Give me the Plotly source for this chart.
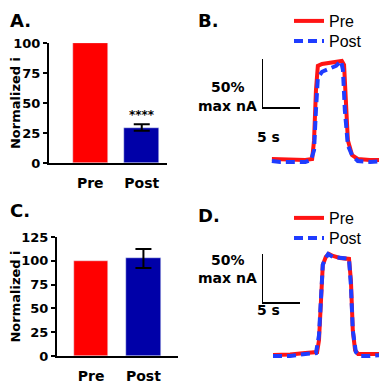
import plotly.graph_objects as go

# page body keeps its 8px margin, so the figure is laid out in page pixels minus 8
OFF = 8
W = 387 - OFF
FONT = "DejaVu Sans"
LEGFONT = "Liberation Sans"
RED = "#ff0000"
NAVY = "#0000a8"
LRED = "#ff1414"
LBLUE = "#1f3cff"

# bar panels
groups = ["Pre", "Post"]
a_mean = [100, 29.5]
a_sem = 2.7
c_mean = [100, 102.5]
c_sem = 10.0
a_sig = "****"

# trace panels (time in s, amplitude in % of max)
b_pre_t = [1.3, 3.7, 5.7, 6.6, 6.85, 7.1, 7.35, 7.9, 8.95, 10.0, 10.5, 10.8, 11.05, 11.3, 11.85, 12.6, 14.2, 16.2]
b_pre_y = [1, 0, 0, 1, 20, 71, 96, 98, 99, 100, 101, 97, 61, 20, 5, 1, 0, 0]
b_post_t = [1.3, 2.4, 4.3, 5.7, 6.45, 6.85, 7.1, 7.35, 7.9, 8.95, 9.75, 10.4, 10.65, 10.9, 11.3, 11.85, 12.6, 14.2, 16.2]
b_post_y = [-1, -2, -2, -2, 0, 10, 51, 84, 90, 93, 96, 101, 92, 51, 15, 5, -1, -2, -1]

d_pre_t = [1.45, 3.7, 5.7, 7.25, 7.5, 7.75, 8.0, 8.4, 8.8, 9.35, 10.25, 11.45, 11.7, 11.95, 12.25, 12.65, 14.2, 15.9]
d_pre_y = [-1, -0.5, 1, 2, 14, 65, 91, 99, 102, 100, 98, 97, 75, 24, 4, 0, 0, 0]
d_post_t = [1.45, 3.7, 5.7, 7.1, 7.5, 7.75, 8.0, 8.3, 8.7, 9.35, 10.25, 11.45, 11.7, 11.95, 12.35, 12.9, 14.2, 15.9]
d_post_y = [-2, -2, 0, 1, 19, 60, 91, 97, 102, 99, 98, 97, 70, 24, 2, -2, -2, -1]

scale_t = 5
scale_amp = 50


def px_x(p):
    return (p - OFF) / W


def px_y(p):
    return 1 - (p - OFF) / W


fig = go.Figure()

# A
fig.add_bar(x=[groups[0]], y=[a_mean[0]], marker_color=RED, width=0.68,
            xaxis="x", yaxis="y", showlegend=False)
fig.add_bar(x=[groups[1]], y=[a_mean[1]], marker_color=NAVY, width=0.68,
            error_y=dict(type="data", array=[a_sem], color="black", thickness=2, width=8),
            xaxis="x", yaxis="y", showlegend=False)
# C
fig.add_bar(x=[groups[0]], y=[c_mean[0]], marker_color=RED, width=0.66,
            xaxis="x2", yaxis="y2", showlegend=False)
fig.add_bar(x=[groups[1]], y=[c_mean[1]], marker_color=NAVY, width=0.66,
            error_y=dict(type="data", array=[c_sem], color="black", thickness=2, width=8),
            xaxis="x2", yaxis="y2", showlegend=False)

# B (one legend box per entry so the rows can sit closer together)
fig.add_scatter(x=b_pre_t, y=b_pre_y, mode="lines", name="Pre",
                line=dict(color=LRED, width=4), xaxis="x3", yaxis="y3", legend="legend")
fig.add_scatter(x=b_post_t, y=b_post_y, mode="lines", name="Post",
                line=dict(color=LBLUE, width=4, dash="9px,5px"), xaxis="x3", yaxis="y3", legend="legend2")
# D
fig.add_scatter(x=d_pre_t, y=d_pre_y, mode="lines", name="Pre",
                line=dict(color=LRED, width=4), xaxis="x4", yaxis="y4", legend="legend3")
fig.add_scatter(x=d_post_t, y=d_post_y, mode="lines", name="Post",
                line=dict(color=LBLUE, width=4, dash="9px,5px"), xaxis="x4", yaxis="y4", legend="legend4")

bar_x = dict(showline=True, linecolor="black", linewidth=2, ticks="outside", ticklen=6,
             tickcolor="rgba(0,0,0,0)", showgrid=False, zeroline=False, automargin=False,
             tickfont=dict(family=FONT, size=14, color="black", weight="bold"))
bar_y = dict(showline=True, linecolor="black", linewidth=2, ticks="outside", ticklen=4,
             tickwidth=2, tickcolor="black", showgrid=False, zeroline=False, automargin=False,
             tickfont=dict(family=FONT, size=13, color="black", weight="bold"),
             title=dict(text="Normalized i", standoff=0,
                        font=dict(family=FONT, size=13, color="black", weight="bold")))
hidden = dict(visible=False, showgrid=False, zeroline=False, automargin=False)
leg = dict(xanchor="left", yanchor="middle", font=dict(family=LEGFONT, size=16, color="black"),
           bgcolor="rgba(0,0,0,0)", itemwidth=30, x=px_x(289))

fig.update_layout(
    width=W, height=W, margin=dict(l=0, r=0, t=0, b=0, autoexpand=False),
    paper_bgcolor="white", plot_bgcolor="rgba(0,0,0,0)",
    xaxis=dict(bar_x, domain=[px_x(49), px_x(167)], range=[-0.8, 1.49], anchor="y"),
    yaxis=dict(bar_y, domain=[px_y(163), px_y(43)], range=[0, 100], tickvals=[0, 25, 50, 75, 100], anchor="x"),
    xaxis2=dict(bar_x, domain=[px_x(57), px_x(178)], range=[-0.65, 1.66], anchor="y2"),
    yaxis2=dict(bar_y, domain=[px_y(356), px_y(237)], range=[0, 125], tickvals=[0, 25, 50, 75, 100, 125], anchor="x2"),
    xaxis3=dict(hidden, domain=[px_x(262), 1], range=[0, 16.45], anchor="y3"),
    yaxis3=dict(hidden, domain=[px_y(175), px_y(50)], range=[-15.3, 112.2], anchor="x3"),
    xaxis4=dict(hidden, domain=[px_x(262), 1], range=[0, 16.45], anchor="y4"),
    yaxis4=dict(hidden, domain=[px_y(370), px_y(245)], range=[-16.3, 111.2], anchor="x4"),
    legend=dict(leg, y=px_y(21)),
    legend2=dict(leg, y=px_y(41)),
    legend3=dict(leg, y=px_y(218)),
    legend4=dict(leg, y=px_y(238)),
    bargap=0,
)

# scale bars
for xr, yr, y0 in [("x3", "y3", 53), ("x4", "y4", 52)]:
    fig.add_shape(type="line", xref=xr, yref=yr, x0=0, x1=0, y0=y0, y1=y0 + scale_amp,
                  line=dict(color="black", width=2))
    fig.add_shape(type="line", xref=xr, yref=yr, x0=0, x1=scale_t, y0=y0, y1=y0,
                  line=dict(color="black", width=2))

bold = dict(family=FONT, color="black", weight="bold")
notes = [("A.", 8, 8), ("B.", 196, 8), ("C.", 8, 198), ("D.", 196, 203)]
for txt, x, y in notes:
    fig.add_annotation(text=txt, x=px_x(x), y=px_y(y), xref="paper", yref="paper",
                       xanchor="left", yanchor="top", showarrow=False,
                       font=dict(bold, size=18))

for yc in [(77, 96, 127), (270, 288, 320)]:
    fig.add_annotation(text=f"{scale_amp}%", x=px_x(228), y=px_y(yc[0]), xref="paper", yref="paper",
                       showarrow=False, font=dict(bold, size=14))
    fig.add_annotation(text="max nA", x=px_x(227), y=px_y(yc[1]), xref="paper", yref="paper",
                       showarrow=False, font=dict(bold, size=14))
    fig.add_annotation(text=f"{scale_t} s", x=px_x(282), y=px_y(yc[2]), xref="paper", yref="paper",
                       showarrow=False, font=dict(bold, size=14))

fig.add_annotation(text=a_sig, x=groups[1], y=a_mean[1] + a_sem + 8, xref="x", yref="y",
                   showarrow=False, font=dict(bold, size=12))

fig.write_html("out.html")
